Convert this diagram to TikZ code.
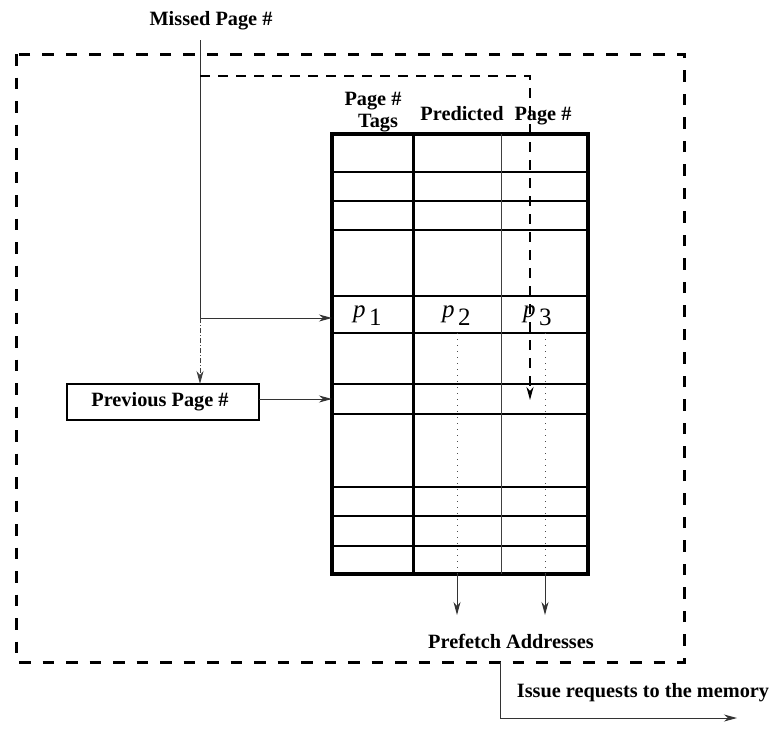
\documentclass[tikz,border=0pt]{standalone}
\usepackage{fontspec}
\setmainfont{Liberation Serif}
\usetikzlibrary{arrows.meta}
\tikzset{
  lbl/.style={font=\fontsize{20.3}{24}\selectfont\bfseries, inner sep=0pt, anchor=base},
  plbl/.style={font=\fontsize{25}{30}\selectfont, inner sep=0pt, anchor=base west},
  tip/.style={-{Stealth[length=13pt,width=7pt,inset=4pt]}},
  frame/.style={line width=3pt, dash pattern=on 11.5pt off 12pt},
  conn/.style={line width=1pt, black!80},
  missdash/.style={line width=1.6pt, dash pattern=on 10pt off 8pt},
  dashdotline/.style={line width=1pt, black!75, dash pattern=on 5pt off 2pt on 1pt off 2pt},
  dotline/.style={line width=1pt, black!70, dash pattern=on 1pt off 5pt},
  rowline/.style={line width=1.2pt},
  thincol/.style={line width=1pt, black!75},
  thickcol/.style={line width=3pt},
  tablebox/.style={draw, line width=3.5pt, inner sep=0pt, outer sep=0pt,
                   minimum width=256pt, minimum height=440pt, anchor=north west},
  prevbox/.style={draw, line width=1.3pt, inner sep=0pt, outer sep=0pt,
                  minimum width=192pt, minimum height=36pt}
}
\newcommand{\plabel}[1]{{\itshape p}\hspace{3.5pt}\raisebox{-8pt}{#1}}
\begin{document}
\begin{tikzpicture}[x=1pt,y=-1pt]
\useasboundingbox (0,0) rectangle (775,728);

% dashed outline of the prefetcher
\draw[frame] (16,54) rectangle (684,662);

% prediction table
\node[tablebox] (tbl) at (332,134) {};
\foreach \r in {172,201,230,296,333,384,414,487,516,546}
  \draw[rowline] (332,\r) -- (588,\r);
\draw[thickcol] (413,134) -- (413,574);
\draw[thincol] (501,134) -- (501,574);

% column headings
\node[lbl] (hpage) at (373,105) {Page \#};
\node[lbl] (htags) at (378,127) {Tags};
\node[lbl] (hpred) at (462,120) {Predicted};
\node[lbl] (hpage2) at (543,120) {Page \#};

% table entries
\node[plbl] (p1) at (353,317) {\plabel{1}};
\node[plbl] (p2) at (442,317) {\plabel{2}};
\node[plbl] (p3) at (523,317) {\plabel{3}};

% previous page register
\node[prevbox] (prev) at (163,402) {};
\node[lbl] (prevtxt) at (160,406) {Previous Page \#};

% missed page input
\node[lbl] (missed) at (211,25) {Missed Page \#};
\coordinate (mtop) at (200,40);
\coordinate (mj) at (200,318);
\draw[conn] (mtop) -- (mj);
\draw[conn, tip] (mj) -- (tbl.west |- mj);
\draw[dashdotline, tip] (mj) -- (mj |- prev.north);
\coordinate (pe) at ([yshift=3pt]prev.east);
\draw[conn, tip] (pe) -- (tbl.west |- pe);

% update path of the missed page into the predicted slot
\coordinate (ud0) at (200,76);
\coordinate (ud1) at (530,76);
\coordinate (ud2) at (530,400);
\draw[missdash, tip] (ud0) -- (ud1) -- (ud2);

% prefetch outputs
\coordinate (d2a) at (457,333);
\coordinate (d2b) at (457,574);
\coordinate (d2c) at (457,615);
\coordinate (d3a) at (545,333);
\coordinate (d3b) at (545,574);
\coordinate (d3c) at (545,615);
\draw[dotline] (d2a) -- (d2b);
\draw[dotline] (d3a) -- (d3b);
\draw[conn, tip] (d2b) -- (d2c);
\draw[conn, tip] (d3b) -- (d3c);
\node[lbl] (prefetch) at (511,648) {Prefetch Addresses};

% requests to memory
\coordinate (r0) at (500,662);
\coordinate (r1) at (500,718);
\coordinate (r2) at (737,718);
\draw[conn, tip] (r0) -- (r1) -- (r2);
\node[lbl] (issue) at (643,697) {Issue requests to the memory};
\end{tikzpicture}
\end{document}
